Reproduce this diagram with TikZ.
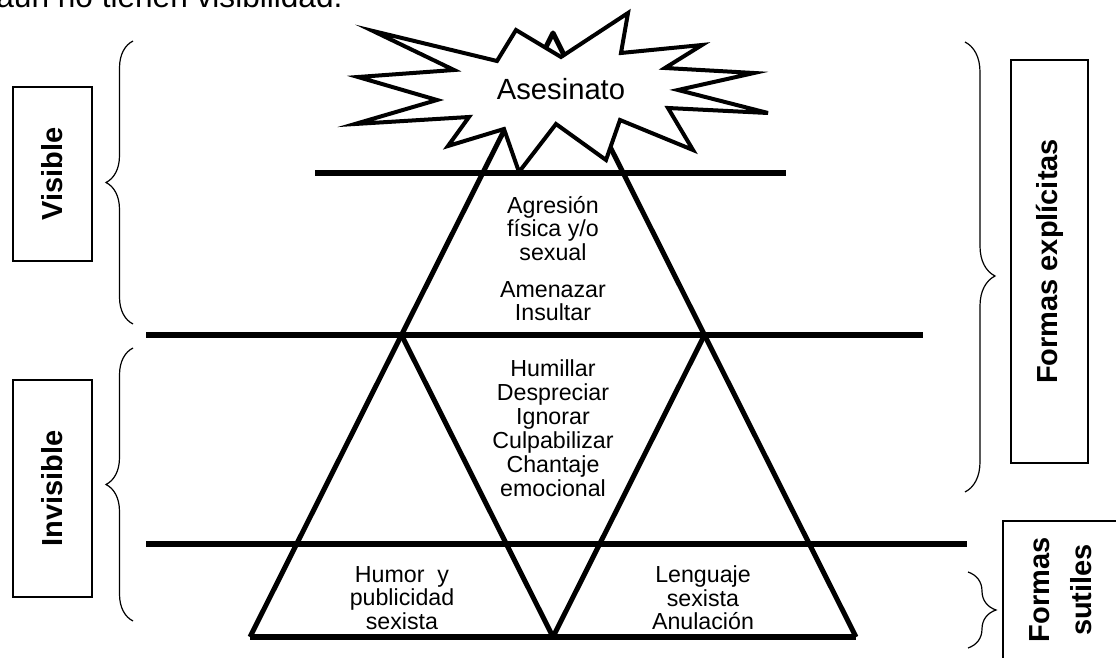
\documentclass[tikz,border=0pt]{standalone}
\usepackage{fontspec}
\setmainfont{Liberation Sans}
\usetikzlibrary{decorations.pathreplacing}

\begin{document}
\begin{tikzpicture}[
        x=0.5pt, y=-0.5pt,
        lbl/.style={align=center, inner sep=0pt, font=\fontsize{11.6}{11.8}\selectfont},
        side/.style={draw, line width=0.75pt, rotate=90, inner sep=0pt, font=\bfseries\fontsize{14.5}{16}\selectfont},
        band/.style={line width=3.3pt},
        edge/.style={line width=2.5pt, line join=round},
        curly/.style={decorate, decoration={brace, amplitude=#1}, line width=0.6pt}
    ]
        \useasboundingbox (0,0) rectangle (1116,658);
        \clip (0,0) rectangle (1116,658);

        \node[anchor=base west, inner sep=0pt, font=\fontsize{15.8}{18}\selectfont] (intro) at (-4,8) {aún no tienen visibilidad.};

        \coordinate (apex) at (553,33);
        \coordinate (bl) at (250,637);
        \coordinate (br) at (856,637);
        \coordinate (vl) at (401.5,335);
        \coordinate (vr) at (704.5,335);
        \coordinate (vb) at (553,637);

        \draw[edge] (bl) -- (apex) -- (br);
        \draw[edge] (vl) -- (vb) -- (vr);
        \draw[band] (315,173) -- (786,173);
        \draw[band] (146,335) -- (923,335);
        \draw[band] (146,544) -- (967,544);
        \draw[band] (bl) -- (br);

        \draw[line width=2pt, fill=white] (373,31) -- (497,61) -- (516,30) -- (561,57) -- (628,13) -- (621,53)
            -- (702,45) -- (665,68) -- (754,73) -- (678,90) -- (768,113) -- (668,108) -- (693,150)
            -- (620,120) -- (606,160) -- (556,124) -- (519,172) -- (504,129) -- (448,146) -- (469,117)
            -- (355,124) -- (437,100) -- (358,77) -- (454,70) -- cycle;
        \node[font=\fontsize{14.6}{16}\selectfont] (kill) at (561,89) {Asesinato};

        \node[lbl] (agr) at (553,228.5) {Agresión\\física y/o\\sexual};
        \node[lbl] (ame) at (553,301) {Amenazar\\Insultar};
        \node[lbl, font=\fontsize{11.6}{12}\selectfont] (hum) at (553,428) {Humillar\\Despreciar\\Ignorar\\Culpabilizar\\Chantaje\\emocional};
        \node[lbl] (pub) at (402,598) {Humor~~y\\publicidad\\sexista};
        \node[lbl] (len) at (703,598) {Lenguaje\\sexista\\Anulación};

        \node[side, minimum width=87pt, minimum height=39.5pt] (vis) at (52.5,174) {Visible};
        \node[side, minimum width=108.5pt, minimum height=39.5pt] (invis) at (52.5,488.5) {Invisible};
        \node[side, minimum width=201.5pt, minimum height=38.5pt] (expl) at (1049.5,261.5) {Formas explícitas};
        \draw[line width=0.75pt] (1003,680) -- (1003,521) -- (1130,521);
        \node[rotate=90, align=center, font=\bfseries\fontsize{14.5}{21}\selectfont] (sut) at (1061,590) {Formas\\sutiles};

        \draw[curly=13.5pt] (133,324) -- (133,41);
        \draw[curly=13.5pt] (133,621) -- (133,348);
        \draw[curly=15pt, decoration={aspect=0.52}] (965,42) -- (965,492);
        \draw[curly=14pt] (968,572) -- (968,648);
    \end{tikzpicture}
\end{document}
